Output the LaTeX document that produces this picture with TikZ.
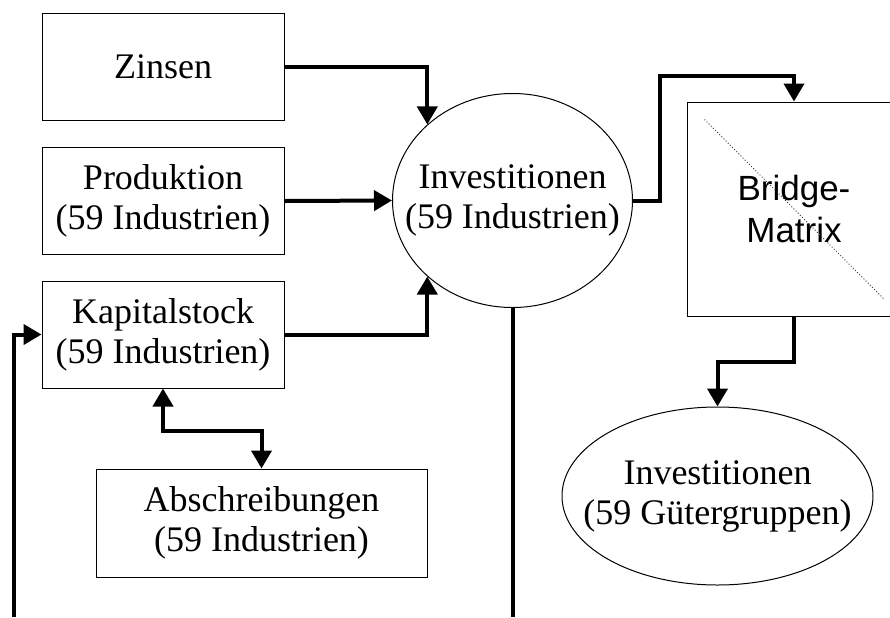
\documentclass[tikz,border=0pt]{standalone}
\usepackage{fontspec}
\setmainfont{Liberation Serif}
\newfontfamily\arialfont{Liberation Sans}
\usetikzlibrary{arrows.meta,shapes.geometric}

\begin{document}
\begin{tikzpicture}[x=0.5pt,y=0.5pt,>={Triangle[length=9pt,width=10pt]}]
  \tikzstyle{every node}+=[inner sep=0pt, align=center, font=\fontsize{18}{20}\selectfont]
  \tikzstyle{box}=[draw=black, line width=0.5pt, minimum width=121pt, minimum height=53.5pt]
  \tikzstyle{oval}=[draw=black, ellipse, line width=0.5pt]
  \tikzstyle{flow}=[black, line width=2pt]
  \useasboundingbox (0,0) rectangle (890,-617);
  \node [box] (zinsen) at (163,-66.5) {Zinsen};
  \node [box] (prod) at (163,-201) {Produktion\\(59 Industrien)};
  \node [box] (kap) at (163,-334.5) {Kapitalstock\\(59 Industrien)};
  \node [box, minimum width=165.5pt, minimum height=54pt] (abschr) at (261.5,-523) {Abschreibungen\\(59 Industrien)};
  \node [oval, minimum width=120pt, minimum height=107pt] (inv) at (512.5,-200.5) {};
  \node (invtxt) at (inv.center) {Investitionen\\(59 Industrien)};
  \node [box, minimum width=107pt, minimum height=107pt, font=\arialfont\fontsize{17.5}{21}\selectfont] (bridge) at (794,-209) {Bridge-\\Matrix};
  \node [oval, minimum width=155.5pt, minimum height=89pt] (invg) at (717.5,-496) {};
  \node (invgtxt) at (invg.center) {Investitionen\\(59 G\"utergruppen)};
  \coordinate (kin) at (14,-617);
  \coordinate (iout) at (512.5,-617);
  \draw [black!75, line width=0.5pt, densely dotted] ([shift={(18,-18)}]bridge.north west) -- ([shift={(-18,18)}]bridge.south east);
  \draw [flow, ->] (zinsen.east) -| (inv.north west);
  \draw [flow, ->] (prod.east) -- (inv.west);
  \draw [flow, ->] (kap.east) -| (inv.south west);
  \draw [flow, <->] (kap.south) -- ++(0,-42) -| (abschr.north);
  \draw [flow, ->] (kin) |- (kap.west);
  \draw [flow] (inv.south) -- (iout);
  \draw [flow, ->] (inv.east) -| ++(27,124.5) -| (bridge.north);
  \draw [flow, ->] (bridge.south) -- ++(0,-45) -| (invg.north);
\end{tikzpicture}
\end{document}
